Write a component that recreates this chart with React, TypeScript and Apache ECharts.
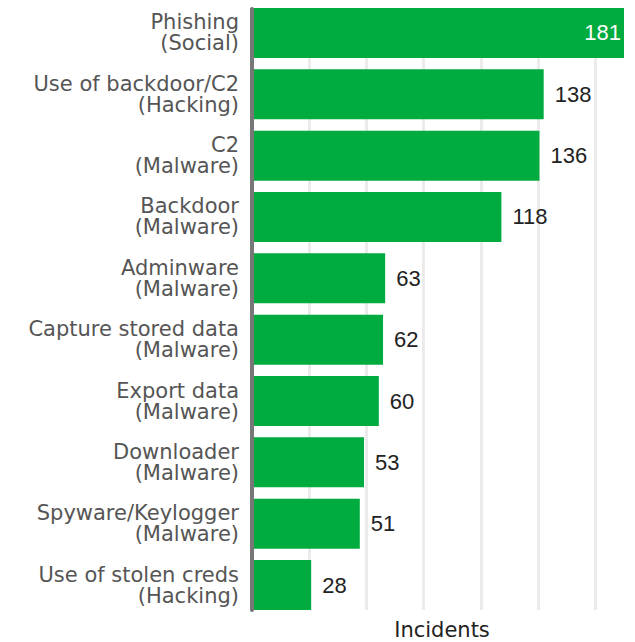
import React, { useEffect, useRef } from "react";
import * as echarts from "echarts";

const categories = [
  "Phishing\n(Social)",
  "Use of backdoor/C2\n(Hacking)",
  "C2\n(Malware)",
  "Backdoor\n(Malware)",
  "Adminware\n(Malware)",
  "Capture stored data\n(Malware)",
  "Export data\n(Malware)",
  "Downloader\n(Malware)",
  "Spyware/Keylogger\n(Malware)",
  "Use of stolen creds\n(Hacking)",
];
const incidents = [181, 138, 136, 118, 63, 62, 60, 53, 51, 28];
const axisTitle = "Incidents";
const axisMax = 176;
const axisInterval = axisMax / 6.5;

const LABEL_FONT = "'DejaVu Sans', sans-serif";
const VALUE_FONT = "'Liberation Sans', Arial, sans-serif";
const GREEN = "#00AB3F";

export default function App() {
  const ref = useRef<HTMLDivElement>(null);
  useEffect(() => {
    if (!ref.current) return;
    const chart = echarts.init(ref.current, null, { renderer: "svg" });
    const data = incidents.map((v, i) =>
      i === 0
        ? { value: v, label: { position: "insideRight", color: "#ffffff", distance: 3 } }
        : { value: v }
    );
    chart.setOption({
      animation: false,
      grid: [
        { left: 252, right: 11, top: 2.33, height: 613.34, containLabel: false, outerBoundsMode: "none" },
        { left: 252, right: 11, top: 9, height: 601, containLabel: false, outerBoundsMode: "none" },
      ],
      xAxis: [
        {
          gridIndex: 0,
          type: "value",
          min: 0,
          max: axisMax,
          interval: axisInterval,
          axisLine: { show: false },
          axisTick: { show: false },
          axisLabel: { show: false },
          splitLine: { show: false },
          name: axisTitle,
          nameLocation: "middle",
          nameGap: 4,
          nameTextStyle: {
            fontFamily: LABEL_FONT,
            fontSize: 21,
            color: "#222222",
            padding: [0, 0, 0, 8],
          },
        },
        {
          gridIndex: 1,
          type: "value",
          min: 0,
          max: axisMax,
          interval: axisInterval,
          axisLine: { show: false },
          axisTick: { show: false },
          axisLabel: { show: false },
          splitLine: {
            show: true,
            showMaxLine: false,
            lineStyle: { color: "#EBEBEB", width: 3 },
          },
        },
      ],
      yAxis: [
        {
          gridIndex: 0,
          type: "category",
          data: categories,
          inverse: true,
          axisLine: { show: false },
          axisTick: { show: false },
          splitLine: { show: false },
          axisLabel: {
            margin: 13,
            fontFamily: LABEL_FONT,
            fontSize: 21,
            lineHeight: 21,
            color: "#555555",
            align: "right",
          },
        },
        {
          gridIndex: 1,
          type: "value",
          min: 0,
          max: 1,
          z: 5,
          axisLine: { show: true, onZero: false, lineStyle: { color: "#777777", width: 4 } },
          axisTick: { show: false },
          axisLabel: { show: false },
          splitLine: { show: false },
        },
      ],
      series: [
        {
          type: "bar",
          xAxisIndex: 0,
          yAxisIndex: 0,
          data,
          barWidth: 50,
          clip: true,
          itemStyle: { color: GREEN },
          label: {
            show: true,
            position: "right",
            distance: 11,
            fontFamily: VALUE_FONT,
            fontSize: 22,
            color: "#222222",
          },
          z: 2,
        },
      ],
    });
    return () => chart.dispose();
  }, []);
  return <div ref={ref} style={{ width: 635, height: 642, position: "absolute", left: 0, top: 0 }} />;
}
